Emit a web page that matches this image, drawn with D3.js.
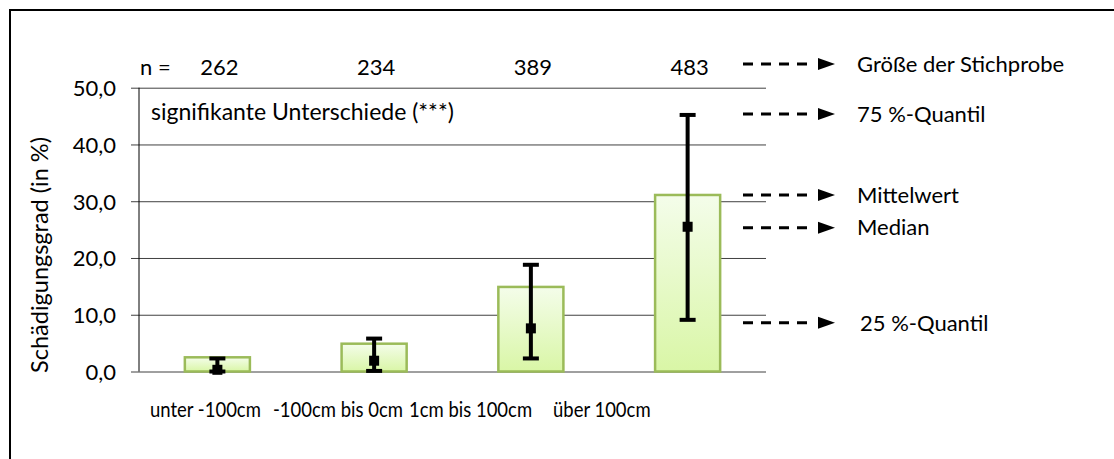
<!DOCTYPE html>
<html>
<head>
<meta charset="utf-8">
<script src="https://cdn.jsdelivr.net/npm/d3@7"></script>
<style>
  html, body { margin: 0; padding: 0; background: #fff; }
  svg { display: block; }
  text { font-family: Lato, "Open Sans", sans-serif; fill: #000; }
</style>
</head>
<body>
<svg id="chart" width="1114" height="459"></svg>
<script>
// Damage degree by height class
const categories = ["unter -100cm", "-100cm bis 0cm", "1cm bis 100cm", "über 100cm"];
const sampleSizes = [262, 234, 389, 483];
const meanValues = [2.5, 4.9, 14.9, 31.1];
const medianValues = [0.3, 1.9, 7.6, 25.5];
const q25Values = [0.0, 0.1, 2.3, 9.1];
const q75Values = [2.3, 5.8, 18.8, 45.2];
const yTicks = [0, 10, 20, 30, 40, 50];
const legendLabels = ["Größe der Stichprobe", "75 %-Quantil", "Mittelwert", "Median", "25 %-Quantil"];

const svg = d3.select("#chart");
const fs = 22;

// outer frame (open on right/bottom)
svg.append("path")
  .attr("d", "M10,470 L10,10 L1130,10")
  .attr("fill", "none").attr("stroke", "#000").attr("stroke-width", 2);

const plot = { left: 139, right: 766, top: 87.7, bottom: 371.5 };

const x = d3.scaleBand().domain(categories).range([plot.left, plot.right]).padding(0);
const y = d3.scaleLinear().domain([0, 50]).range([plot.bottom, plot.top]);
const fmt = v => d3.format(".1f")(v).replace(".", ",");

// gridlines with tick stubs
const yAxis = d3.axisLeft(y).tickValues(yTicks).tickFormat(fmt)
  .tickSize(-(plot.right - plot.left)).tickPadding(15);
const ga = svg.append("g").attr("transform", `translate(${plot.left},0)`).call(yAxis);
ga.select(".domain").remove();
ga.selectAll(".tick line").attr("stroke", "#404040").attr("stroke-width", 1)
  .attr("x1", -8);
ga.selectAll(".tick text").attr("font-size", fs).attr("font-family", "Lato, sans-serif")
  .attr("x", -23).attr("dy", "0.36em");
// axis line
svg.append("line").attr("x1", plot.left).attr("x2", plot.left)
  .attr("y1", y(50)).attr("y2", y(0)).attr("stroke", "#000").attr("stroke-width", 1);

// bar gradient
const defs = svg.append("defs");
const grad = defs.append("linearGradient").attr("id", "barFill")
  .attr("x1", 0).attr("y1", 0).attr("x2", 0).attr("y2", 1);
grad.append("stop").attr("offset", "0%").attr("stop-color", "#f4fdea");
grad.append("stop").attr("offset", "100%").attr("stop-color", "#d9f6a6");

const barW = x.bandwidth() * 0.415;
const cx = c => x(c) + x.bandwidth() / 2;

svg.append("g").selectAll("rect").data(categories).join("rect")
  .attr("x", c => cx(c) - barW / 2)
  .attr("y", (c, i) => y(meanValues[i]))
  .attr("width", barW)
  .attr("height", (c, i) => y(0) - y(meanValues[i]))
  .attr("fill", "url(#barFill)")
  .attr("stroke", "#9bbb59").attr("stroke-width", 2.5);

// quartile range with caps and median marker
const eb = svg.append("g");
categories.forEach((c, i) => {
  const xc = cx(c);
  eb.append("line").attr("x1", xc).attr("x2", xc)
    .attr("y1", y(q25Values[i])).attr("y2", y(q75Values[i]))
    .attr("stroke", "#000").attr("stroke-width", 4);
  [q25Values[i], q75Values[i]].forEach(v => {
    eb.append("line").attr("x1", xc - 8).attr("x2", xc + 8)
      .attr("y1", y(v)).attr("y2", y(v))
      .attr("stroke", "#000").attr("stroke-width", 4);
  });
  eb.append("rect").attr("x", xc - 5).attr("y", y(medianValues[i]) - 5)
    .attr("width", 10).attr("height", 10).attr("fill", "#000");
});

// sample sizes
svg.append("text").attr("x", 140).attr("y", 75).attr("font-size", fs).text("n =");
svg.append("g").selectAll("text").data(categories).join("text")
  .attr("x", c => cx(c) + 2).attr("y", 75).attr("text-anchor", "middle")
  .attr("font-size", fs).text((c, i) => sampleSizes[i]);

svg.append("text").attr("x", 151).attr("y", 119.5).attr("font-size", 23)
  .text("signifikante Unterschiede (***)");

// category labels (condensed text line below the axis)
const labelX = [150, 273, 409, 553];
const squeeze = 0.88;
svg.append("g").attr("transform", `scale(${squeeze},1)`)
  .selectAll("text").data(categories).join("text")
  .attr("x", (c, i) => labelX[i] / squeeze).attr("y", 417).attr("font-size", 21).text(c => c);

// y title
svg.append("text").attr("transform", "translate(48,255) rotate(-90)")
  .attr("text-anchor", "middle").attr("font-size", 23.5).text("Schädigungsgrad (in %)");

// explanatory legend pointing at the last group
const last = categories.length - 1;
const legendY = [64, y(q75Values[last]) - 1, y(meanValues[last]), y(medianValues[last]) + 1, y(q25Values[last]) + 3];
const lg = svg.append("g");
legendLabels.forEach((lab, i) => {
  const ly = legendY[i];
  lg.append("line").attr("x1", 743).attr("x2", 812).attr("y1", ly).attr("y2", ly)
    .attr("stroke", "#000").attr("stroke-width", 3).attr("stroke-dasharray", "10,8");
  lg.append("path").attr("d", `M818,${ly - 6} L835,${ly} L818,${ly + 6} Z`).attr("fill", "#000");
  lg.append("text").attr("x", i === 4 ? 860 : 857).attr("y", ly).attr("dy", "0.35em")
    .attr("font-size", fs).text(lab);
});
</script>
</body>
</html>
